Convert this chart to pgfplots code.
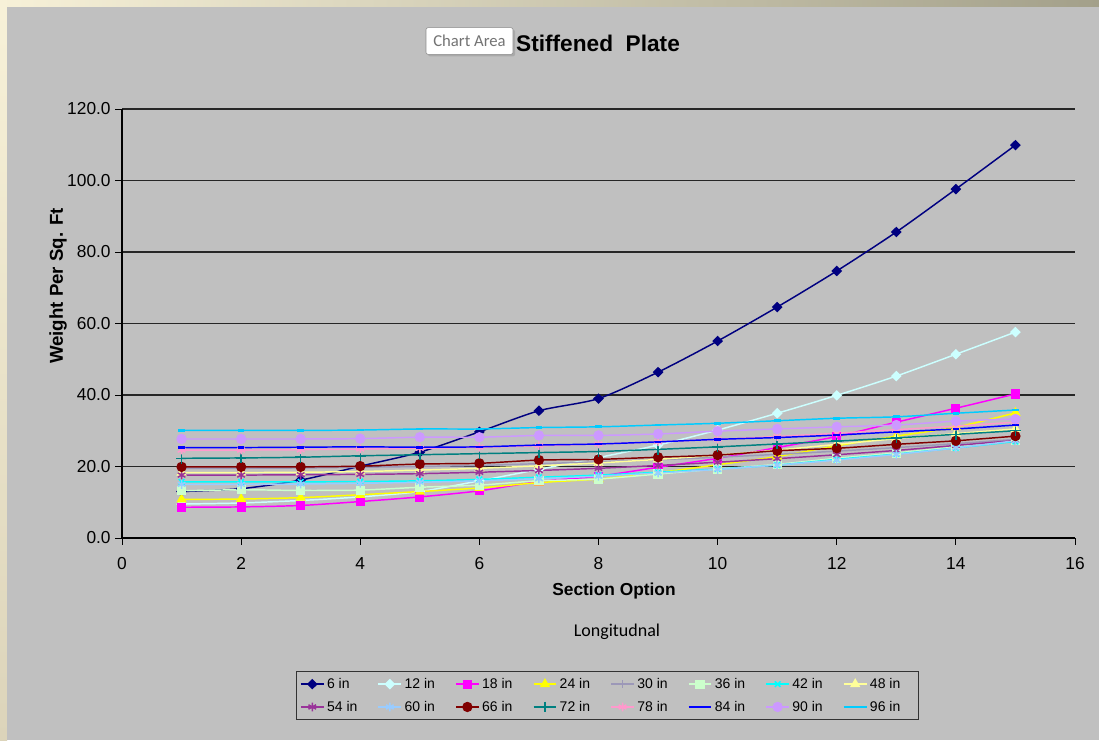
\documentclass[border=0pt]{standalone}
\usepackage{pgfplots}
\pgfplotsset{compat=1.18}
\usetikzlibrary{shadows}
\usepackage{fontspec}
\setmainfont{Liberation Sans}
\newfontfamily\calibri{Carlito}
\definecolor{chartgrey}{HTML}{C0C0C0}
\definecolor{creamA}{HTML}{F7F1D8}
\definecolor{creamB}{HTML}{A3A08A}
\definecolor{creamC}{HTML}{DCD4BA}
\definecolor{cNavy}{HTML}{000080}
\definecolor{cLCyan}{HTML}{CCFFFF}
\definecolor{cMag}{HTML}{FF00FF}
\definecolor{cYel}{HTML}{FFFF00}
\definecolor{cGrayP}{HTML}{9C98B8}
\definecolor{cLGreen}{HTML}{CCFFCC}
\definecolor{cCyan}{HTML}{00FFFF}
\definecolor{cLYel}{HTML}{FFFF99}
\definecolor{cPurp}{HTML}{993399}
\definecolor{cLBlue}{HTML}{99CCFF}
\definecolor{cDRed}{HTML}{800000}
\definecolor{cTeal}{HTML}{008080}
\definecolor{cPink}{HTML}{FF99CC}
\definecolor{cBlue}{HTML}{0000FF}
\definecolor{cLav}{HTML}{CC99FF}
\definecolor{cSky}{HTML}{00CCFF}
\begin{document}
\begin{tikzpicture}
\begin{scope}[x=0.75pt,y=-0.75pt]
\useasboundingbox (0,0) rectangle (1099,740);
\fill[creamA] (0,0) rectangle (1099,740);
\shade[left color=creamA, right color=creamB] (0,0) rectangle (1099,7);
\shade[top color=creamA, bottom color=creamC] (0,7) rectangle (7,740);
\fill[chartgrey] (7,7) rectangle (1099,740);
\end{scope}
\begin{axis}[
  at={(91.5pt,-403.5pt)}, anchor=south west,
  scale only axis, width=714.75pt, height=321.75pt,
  xmin=0, xmax=16, ymin=0, ymax=120,
  xtick={0,2,...,16}, ytick={0,20,...,120},
  axis lines*=left, axis line style={-, black, line width=0.8pt},
  tick align=outside, major tick length=5pt,
  tick style={black, line width=0.6pt},
  ymajorgrids, grid style={black!85, line width=0.9pt},
  /pgf/number format/assume math mode=true,
  y tick label style={/pgf/number format/.cd, fixed, fixed zerofill, precision=1},
  tick label style={font=\fontsize{13}{15}\selectfont},
  x tick label style={yshift=-6pt},
  legend columns=8,
  legend style={at={(0.509,-0.310)}, anchor=north, draw=black!80, line width=0.6pt,
    fill=chartgrey, font=\fontsize{10.5}{12}\selectfont, inner sep=3pt,
    /tikz/every even column/.append style={column sep=5pt}, row sep=4pt},
  every axis plot/.append style={line width=1.1pt, smooth, tension=0.45},
]
\addplot[color=cNavy, mark=diamond*, mark size=3.2pt, mark options={solid, xscale=1.35}] coordinates {(1,13.0)(2,13.8)(3,16.2)(4,20.1)(5,24.0)(6,29.7)(7,35.6)(8,39.0)(9,46.4)(10,55.1)(11,64.6)(12,74.7)(13,85.6)(14,97.6)(15,109.9)};
\addlegendentry{\makebox[31pt][l]{6 in}}
\addplot[color=cLCyan, mark=diamond*, mark size=3.2pt, mark options={xscale=1.35}] coordinates {(1,9.5)(2,9.8)(3,10.5)(4,11.5)(5,13.0)(6,16.0)(7,19.2)(8,22.5)(9,26.0)(10,30.2)(11,34.9)(12,39.9)(13,45.3)(14,51.4)(15,57.6)};
\addlegendentry{\makebox[31pt][l]{12 in}}
\addplot[color=cMag, mark=square*, mark size=2.9pt] coordinates {(1,8.6)(2,8.7)(3,9.1)(4,10.2)(5,11.5)(6,13.2)(7,15.8)(8,17.3)(9,19.8)(10,22.3)(11,25.3)(12,28.4)(13,32.4)(14,36.3)(15,40.3)};
\addlegendentry{\makebox[31pt][l]{18 in}}
\addplot[color=cYel, mark=triangle*, mark size=3.4pt] coordinates {(1,10.8)(2,10.9)(3,11.3)(4,12.1)(5,13.0)(6,14.0)(7,15.5)(8,16.5)(9,18.3)(10,20.5)(11,22.8)(12,25.8)(13,28.5)(14,31.0)(15,35.0)};
\addlegendentry{\makebox[31pt][l]{24 in}}
\addplot[color=cGrayP, mark=+, mark size=3pt] coordinates {(1,19.5)(2,19.5)(3,19.6)(4,19.8)(5,20.0)(6,20.3)(7,20.8)(8,21.3)(9,21.9)(10,22.6)(11,23.4)(12,24.3)(13,25.3)(14,26.4)(15,27.6)};
\addlegendentry{\makebox[31pt][l]{30 in}}
\addplot[color=cLGreen, mark=square*, mark size=2.9pt] coordinates {(1,13.2)(2,13.5)(3,13.3)(4,13.4)(5,14.2)(6,14.8)(7,16.0)(8,16.5)(9,17.9)(10,19.3)(11,20.6)(12,22.3)(13,23.8)(14,25.5)(15,27.3)};
\addlegendentry{\makebox[31pt][l]{36 in}}
\addplot[color=cCyan, mark=x, mark size=3pt] coordinates {(1,15.7)(2,15.7)(3,15.7)(4,15.8)(5,16.0)(6,16.4)(7,17.0)(8,17.6)(9,18.4)(10,19.3)(11,20.4)(12,22.0)(13,23.5)(14,25.2)(15,27.0)};
\addlegendentry{\makebox[31pt][l]{42 in}}
\addplot[color=cLYel, mark=triangle*, mark size=3.4pt] coordinates {(1,18.3)(2,18.3)(3,18.4)(4,18.6)(5,19.0)(6,19.5)(7,20.2)(8,21.0)(9,22.0)(10,23.2)(11,24.6)(12,26.2)(13,27.8)(14,29.2)(15,30.5)};
\addlegendentry{\makebox[31pt][l]{48 in}}
\addplot[color=cPurp, mark=asterisk, mark size=3.3pt] coordinates {(1,17.6)(2,17.6)(3,17.7)(4,17.8)(5,18.0)(6,18.4)(7,18.9)(8,19.5)(9,20.3)(10,21.2)(11,22.2)(12,23.3)(13,24.5)(14,25.9)(15,27.3)};
\addlegendentry{\makebox[31pt][l]{54 in}}
\addplot[color=cLBlue, mark=asterisk, mark size=3.3pt] coordinates {(1,15.0)(2,15.0)(3,15.1)(4,15.3)(5,15.6)(6,16.0)(7,16.6)(8,17.3)(9,18.2)(10,19.2)(11,20.4)(12,21.8)(13,23.4)(14,25.2)(15,27.2)};
\addlegendentry{\makebox[31pt][l]{60 in}}
\addplot[color=cDRed, mark=*, mark size=3.3pt] coordinates {(1,19.9)(2,19.9)(3,19.9)(4,20.1)(5,20.7)(6,20.9)(7,21.8)(8,22.0)(9,22.6)(10,23.2)(11,24.4)(12,25.1)(13,26.2)(14,27.2)(15,28.5)};
\addlegendentry{\makebox[31pt][l]{66 in}}
\addplot[color=cTeal, mark=+, mark size=4pt] coordinates {(1,22.3)(2,22.4)(3,22.6)(4,23.0)(5,23.3)(6,23.6)(7,23.9)(8,24.2)(9,24.8)(10,25.5)(11,26.3)(12,27.1)(13,28.0)(14,29.0)(15,30.0)};
\addlegendentry{\makebox[31pt][l]{72 in}}
\addplot[color=cPink, mark=asterisk, mark size=3.3pt] coordinates {(1,24.6)(2,24.6)(3,24.7)(4,24.9)(5,25.1)(6,25.4)(7,25.8)(8,26.3)(9,26.9)(10,27.6)(11,28.4)(12,29.3)(13,30.3)(14,31.3)(15,32.4)};
\addlegendentry{\makebox[31pt][l]{78 in}}
\addplot[color=cBlue, mark=-, mark size=2.5pt, mark options={line width=2pt}] coordinates {(1,25.3)(2,25.3)(3,25.4)(4,25.5)(5,25.4)(6,25.5)(7,26.0)(8,26.3)(9,26.9)(10,27.6)(11,28.1)(12,28.8)(13,29.7)(14,30.5)(15,31.6)};
\addlegendentry{\makebox[31pt][l]{84 in}}
\addplot[color=cLav, mark=*, mark size=3.3pt] coordinates {(1,27.7)(2,27.7)(3,27.7)(4,27.8)(5,28.2)(6,28.2)(7,28.7)(8,28.7)(9,29.1)(10,29.9)(11,30.5)(12,31.1)(13,31.6)(14,32.7)(15,33.3)};
\addlegendentry{\makebox[31pt][l]{90 in}}
\addplot[color=cSky, mark=-, mark size=2.5pt, mark options={line width=2pt}] coordinates {(1,30.1)(2,30.1)(3,30.1)(4,30.2)(5,30.5)(6,30.5)(7,30.9)(8,31.1)(9,31.6)(10,32.1)(11,32.8)(12,33.5)(13,33.9)(14,34.9)(15,35.8)};
\addlegendentry{\makebox[31pt][l]{96 in}}
\end{axis}
\begin{scope}[x=0.75pt,y=-0.75pt]
\node[font=\fontsize{17}{20}\selectfont\bfseries] at (598,43) {Stiffened\ \ Plate};
\node[draw=black!45, fill=white, rounded corners=1.5pt, minimum width=65.25pt, minimum height=20pt, inner sep=0pt,
  font=\calibri\fontsize{12.5}{14}\selectfont, text=black!55, drop shadow={shadow xshift=1.5pt, shadow yshift=-1.5pt, opacity=0.35}] at (469.5,41) {Chart Area};
\node[font=\fontsize{13}{15}\selectfont\bfseries] at (614,591) {Section Option};
\node[font=\fontsize{14}{16}\selectfont\bfseries, rotate=90] at (58,286) {Weight Per Sq. Ft};
\node[font=\calibri\fontsize{13.5}{16}\selectfont] at (617,632) {Longitudnal};
\end{scope}
\end{tikzpicture}
\end{document}
